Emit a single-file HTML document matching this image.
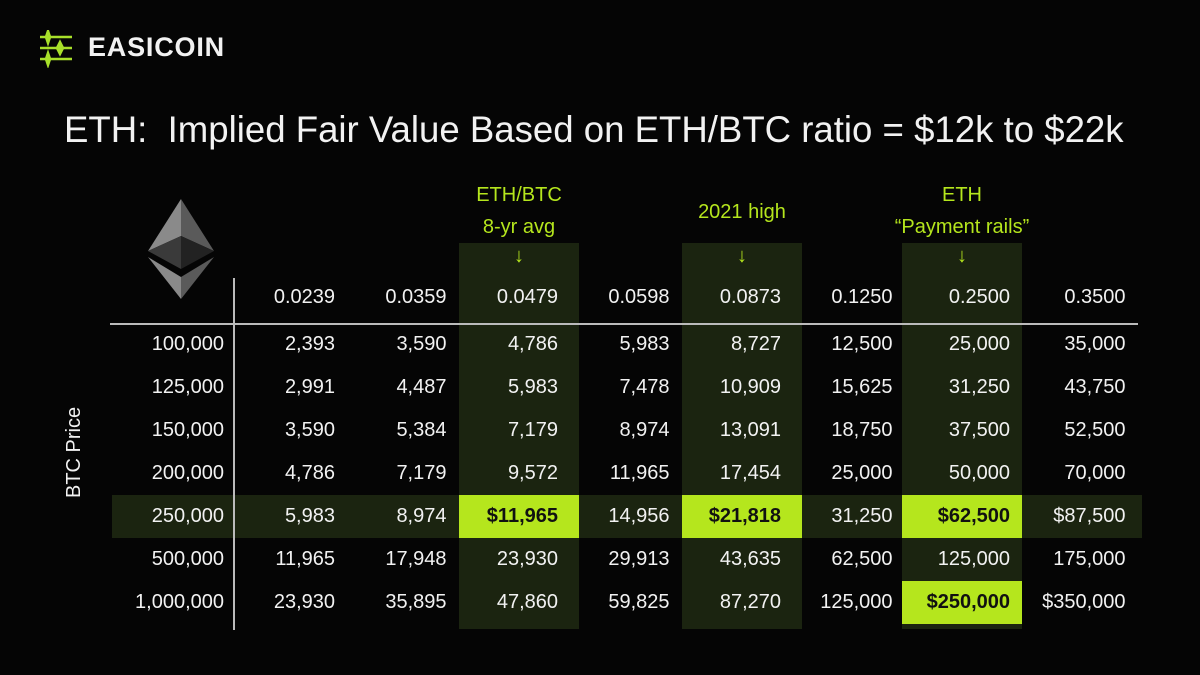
<!DOCTYPE html>
<html><head><meta charset="utf-8">
<style>
body{margin:0;background:#000;}
#root{position:relative;width:1200px;height:675px;background:#050505;overflow:hidden;font-family:"Liberation Sans",sans-serif;color:#f2f2f2;}
.t{position:absolute;white-space:nowrap;}
</style></head><body>
<div id="root">
<svg class="t" style="left:38px;top:30px" width="36" height="38">
<g stroke="#a8e02a" stroke-width="2.5" fill="#a8e02a">
<line x1="2" y1="7" x2="34" y2="7"/><line x1="2" y1="18" x2="34" y2="18"/><line x1="2" y1="29" x2="34" y2="29"/>
<path d="M10 1 L12 7 L10 13 L8 7Z"/><path d="M22 12 L25 18 L22 24 L19 18Z"/><path d="M10 23 L12 29 L10 35 L8 29Z"/>
</g></svg>
<div class="t" style="left:88px;top:32px;font-size:27px;font-weight:bold;letter-spacing:0.8px">EASICOIN</div>
<div class="t" style="left:64px;top:109px;font-size:36.6px;letter-spacing:0px">ETH:&nbsp; Implied Fair Value Based on ETH/BTC ratio = $12k to $22k</div>
<svg class="t" style="left:148px;top:199px" width="66" height="100">
<polygon points="33,0 33,37 0,52" fill="#8a8a8a"/><polygon points="33,0 66,52 33,37" fill="#5a5a5a"/>
<polygon points="0,52 33,37 33,70" fill="#3a3a3a"/><polygon points="66,52 33,37 33,70" fill="#222"/>
<polygon points="0,58 33,78 33,100" fill="#8a8a8a"/><polygon points="66,58 33,78 33,100" fill="#5a5a5a"/>
</svg>
<div class="t" style="left:30px;width:90px;text-align:center;font-size:20px;transform:rotate(-90deg);transform-origin:45px 12px;top:441px">BTC Price</div>
</div>
<script>
const ratios=["0.0239","0.0359","0.0479","0.0598","0.0873","0.1250","0.2500","0.3500"];
const btcPrices=["100,000","125,000","150,000","200,000","250,000","500,000","1,000,000"];
const values=[
["2,393","3,590","4,786","5,983","8,727","12,500","25,000","35,000"],
["2,991","4,487","5,983","7,478","10,909","15,625","31,250","43,750"],
["3,590","5,384","7,179","8,974","13,091","18,750","37,500","52,500"],
["4,786","7,179","9,572","11,965","17,454","25,000","50,000","70,000"],
["5,983","8,974","$11,965","14,956","$21,818","31,250","$62,500","$87,500"],
["11,965","17,948","23,930","29,913","43,635","62,500","125,000","175,000"],
["23,930","35,895","47,860","59,825","87,270","125,000","$250,000","$350,000"]];
const hlCols=[2,4,6];
const hlCells=[[4,2],[4,4],[4,6],[6,6]];
const hlRow=4;
const colNotes=[["ETH/BTC","8-yr avg"],["2021 high"],["ETH","\u201cPayment rails\u201d"]];
const root=document.getElementById('root');
const colRight=i=>335+i*111.5+(i===6?6:i===7?10:0);
const hlLeft=i=>colRight(i)-(i===6?108:99);
const rowY=r=>345+r*43;
function mk(css,txt){const d=document.createElement('div');d.className='t';d.style.cssText=css;if(txt!==undefined)d.textContent=txt;root.appendChild(d);return d;}
let b=mk(`left:112px;top:${rowY(hlRow)-22}px;width:1030px;height:43px;background:#1b2410`);


hlCols.forEach((c,k)=>{
 const L=hlLeft(c);
 let d=mk(`left:${L}px;top:243px;width:120px;height:386px;background:#1b2410`);
 
 
 const notes=colNotes[k];const cx=L+60;
 notes.forEach((n,j)=>{
  const top=notes.length===1?201:184+j*32;
  let t=mk(`left:${cx-100}px;top:${top}px;width:200px;text-align:center;font-size:20px;color:#b5e61d`,n);
  
  
 });
 let a=mk(`left:${cx-10}px;top:245px;width:20px;text-align:center;font-size:20px;color:#b5e61d;font-weight:bold`,'\u2193');
 
 
});
hlCells.forEach(([r,c])=>{
 let d=mk(`left:${hlLeft(c)}px;top:${rowY(r)-22}px;width:120px;height:43px;background:#b5e61d`);
 
 
});
let hl=mk('left:110px;top:323px;width:1028px;height:2px;background:#bbb');


let vl=mk('left:233px;top:278px;width:2px;height:352px;background:#bbb');


ratios.forEach((v,i)=>{
 let t=mk(`left:${colRight(i)-100}px;top:286px;width:100px;text-align:right;font-size:20px`,v);
 
 
});
btcPrices.forEach((p,r)=>{
 let t=mk(`left:84px;top:${rowY(r)-12}px;width:140px;text-align:right;font-size:20px`,p);
 
 
 values[r].forEach((v,c)=>{
  const isHl=hlCells.some(x=>x[0]===r&&x[1]===c);
  let s=mk(`left:${colRight(c)-110}px;top:${rowY(r)-12}px;width:110px;text-align:right;font-size:20px;${isHl?'color:#111;font-weight:bold;':''}`,v);
  
  
 });
});
</script>
</body></html>
